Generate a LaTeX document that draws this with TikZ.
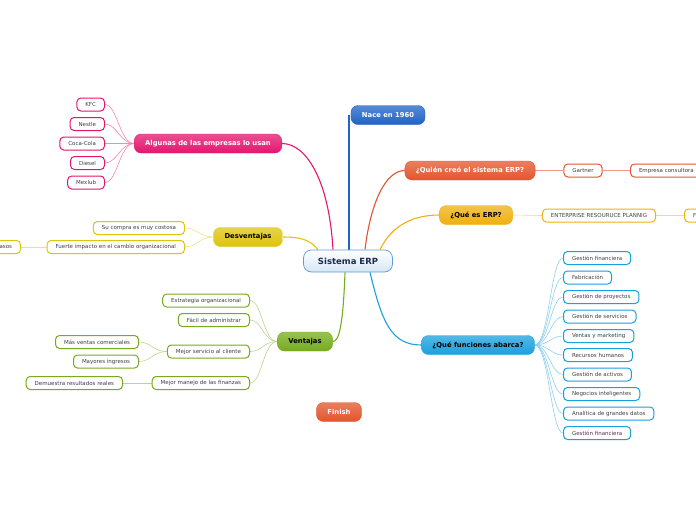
\documentclass[tikz,border=0pt]{standalone}
\usepackage{fontspec}
\setmainfont{DejaVu Sans}
\usetikzlibrary{positioning,backgrounds}
\definecolor{rootblue}{HTML}{5B9BD5}
\definecolor{rootnavy}{HTML}{1C2B4E}
\definecolor{pinkcol}{HTML}{E3166E}
\definecolor{nacecol}{HTML}{1F63C6}
\definecolor{redcol}{HTML}{E2552C}
\definecolor{ambercol}{HTML}{EFB010}
\definecolor{skycol}{HTML}{1AA0DE}
\definecolor{greencol}{HTML}{76AC1C}
\definecolor{yelcol}{HTML}{DEC40C}

\begin{document}
\begin{tikzpicture}[x=1pt, y=-1pt,
  root/.style={draw=rootblue, line width=0.7pt, rounded corners=8pt,
               top color=white, bottom color=rootblue!25,
               minimum width=89pt, minimum height=22pt,
               font=\fontsize{8.5}{9}\selectfont\bfseries, text=rootnavy},
  topic/.style={draw=#1, rounded corners=7pt, top color=#1!75!white,
                bottom color=#1, minimum height=19pt, inner xsep=11pt,
                font=\fontsize{6.8}{7}\selectfont\bfseries},
  leaf/.style={draw=#1, line width=1pt, rounded corners=4pt, fill=white,
               minimum height=13pt, inner xsep=8.5pt,
               font=\fontsize{5.5}{6}\selectfont, text=black!75},
  link/.style={line width=1.1pt},
  twig/.style={line width=0.6pt},
]
  \useasboundingbox (0,0) rectangle (696,520);
  \clip (0,0) rectangle (696,520);

  % ── Central topic ─────────────────
  \node[root] (erp) at (348,261) {Sistema ERP};

  % ── Main topics ───────────────────
  \node[topic=nacecol, text=white] (nace) at (388,115) {Nace en 1960};
  \node[topic=redcol, text=white] (quien) at (470,170.5) {¿Quién creó el sistema ERP?};
  \node[topic=ambercol, text=black] (que) at (476,215) {¿Qué es ERP?};
  \node[topic=skycol, text=black] (func) at (478,345) {¿Qué funciones abarca?};
  \node[topic=redcol, text=white] (fin) at (339,412) {Finish};
  \node[topic=greencol, text=black] (vent) at (305,341.5) {Ventajas};
  \node[topic=yelcol, text=black] (desv) at (248,237) {Desventajas};
  \node[topic=pinkcol, text=white] (emp) at (208,143.5) {Algunas de las empresas lo usan};

  % ── Quién / Qué ───────────────────
  \node[leaf=redcol] (gart) at (583,170.5) {Gartner};
  \node[leaf=redcol, anchor=west] (cons) at (630,170.5) {Empresa consultora};
  \node[leaf=ambercol] (ent) at (599,215.5) {ENTERPRISE RESOURUCE PLANNIG};
  \node[leaf=ambercol, anchor=west] (efe) at (684,215.5) {F};

  % ── Funciones ─────────────────────
  \node[leaf=skycol, anchor=west] (f1) at (563,258) {Gestión financiera};
  \node[leaf=skycol, anchor=west] (f2) at (563,277.5) {Fabricación};
  \node[leaf=skycol, anchor=west] (f3) at (563,297) {Gestión de proyectos};
  \node[leaf=skycol, anchor=west] (f4) at (563,316.5) {Gestión de servicios};
  \node[leaf=skycol, anchor=west] (f5) at (563,336) {Ventas y marketing};
  \node[leaf=skycol, anchor=west] (f6) at (563,355) {Recursos humanos};
  \node[leaf=skycol, anchor=west] (f7) at (563,374.5) {Gestión de activos};
  \node[leaf=skycol, anchor=west] (f8) at (563,394) {Negocios inteligentes};
  \node[leaf=skycol, anchor=west] (f9) at (563,413.5) {Analítica de grandes datos};
  \node[leaf=skycol, anchor=west] (f10) at (563,433) {Gestión financiera};

  % ── Ventajas ──────────────────────
  \node[leaf=greencol, anchor=east] (v1) at (250,300.5) {Estrategia organizacional};
  \node[leaf=greencol, anchor=east] (v2) at (250,320) {Fácil de administrar};
  \node[leaf=greencol, anchor=east] (v3) at (250,351.5) {Mejor servicio al cliente};
  \node[leaf=greencol, anchor=east] (v4) at (250,383) {Mejor manejo de las finanzas};
  \node[leaf=greencol, anchor=east] (v31) at (139,342) {Más ventas comerciales};
  \node[leaf=greencol, anchor=east] (v32) at (139,361.5) {Mayores ingresos};
  \node[leaf=greencol, anchor=east] (v41) at (123,383) {Demuestra resultados reales};

  % ── Desventajas ───────────────────
  \node[leaf=yelcol, anchor=east] (d1) at (185,228) {Su compra es muy costosa};
  \node[leaf=yelcol, anchor=east] (d2) at (185,247) {Fuerte impacto en el cambio organizacional};
  \node[leaf=yelcol, anchor=east] (d21) at (21,247) {asos};

  % ── Empresas ──────────────────────
  \node[leaf=pinkcol, anchor=east] (e1) at (105,104.5) {KFC};
  \node[leaf=pinkcol, anchor=east] (e2) at (105,124) {Nestle};
  \node[leaf=pinkcol, anchor=east] (e3) at (105,143.5) {Coca-Cola};
  \node[leaf=pinkcol, anchor=east] (e4) at (105,163) {Diesel};
  \node[leaf=pinkcol, anchor=east] (e5) at (105,182.5) {Mexlub};

  % ── Connectors ────────────────────
  \begin{scope}[on background layer]
    \draw[link, pinkcol] ([xshift=-15pt]erp.north) .. controls +(-4,-70) and +(24,0) .. (emp.east);
    \draw[link, yelcol] ([xshift=-30pt]erp.north) .. controls +(-8,-10) and +(18,0) .. (desv.east);
    \draw[link, nacecol] ([xshift=1pt]erp.north) -- ([xshift=1pt]erp.north |- nace.center);
    \draw[link, redcol] ([xshift=17pt]erp.north) .. controls +(6,-50) and +(-18,0) .. (quien.west);
    \draw[link, ambercol] ([xshift=32pt]erp.north) .. controls +(12,-25) and +(-25,0) .. (que.west);
    \draw[link, skycol] ([xshift=22pt]erp.south) .. controls +(12,50) and +(-30,0) .. (func.west);
    \draw[link, greencol] ([xshift=-3pt]erp.south) .. controls +(-2,55) and +(6,0) .. (vent.east);

    \draw[twig, redcol!60] (quien.east) -- (gart.west);
    \draw[twig, redcol!60] (gart.east) -- (cons.west);
    \draw[twig, ambercol!50] (que.east) -- (ent.west);
    \draw[twig, ambercol!50] (ent.east) -- (efe.west);

    \foreach \f in {f1,f2,f3,f4,f5,f6,f7,f8,f9,f10}
      \draw[twig, skycol!50] (func.east) .. controls +(14,0) and +(-12,0) .. (\f.west);
    \foreach \v in {v1,v2,v3,v4}
      \draw[twig, greencol!50] (vent.west) .. controls +(-14,0) and +(12,0) .. (\v.east);
    \foreach \v in {v31,v32}
      \draw[twig, greencol!50] (v3.west) .. controls +(-14,0) and +(12,0) .. (\v.east);
    \draw[twig, greencol!50] (v4.west) -- (v41.east);
    \foreach \d in {d1,d2}
      \draw[twig, yelcol!50] (desv.west) .. controls +(-14,0) and +(12,0) .. (\d.east);
    \draw[twig, yelcol!50] (d2.west) -- (d21.east);
    \foreach \e in {e1,e2,e3,e4,e5}
      \draw[twig, pinkcol!50] (emp.west) .. controls +(-14,0) and +(12,0) .. (\e.east);
  \end{scope}
\end{tikzpicture}
\end{document}
